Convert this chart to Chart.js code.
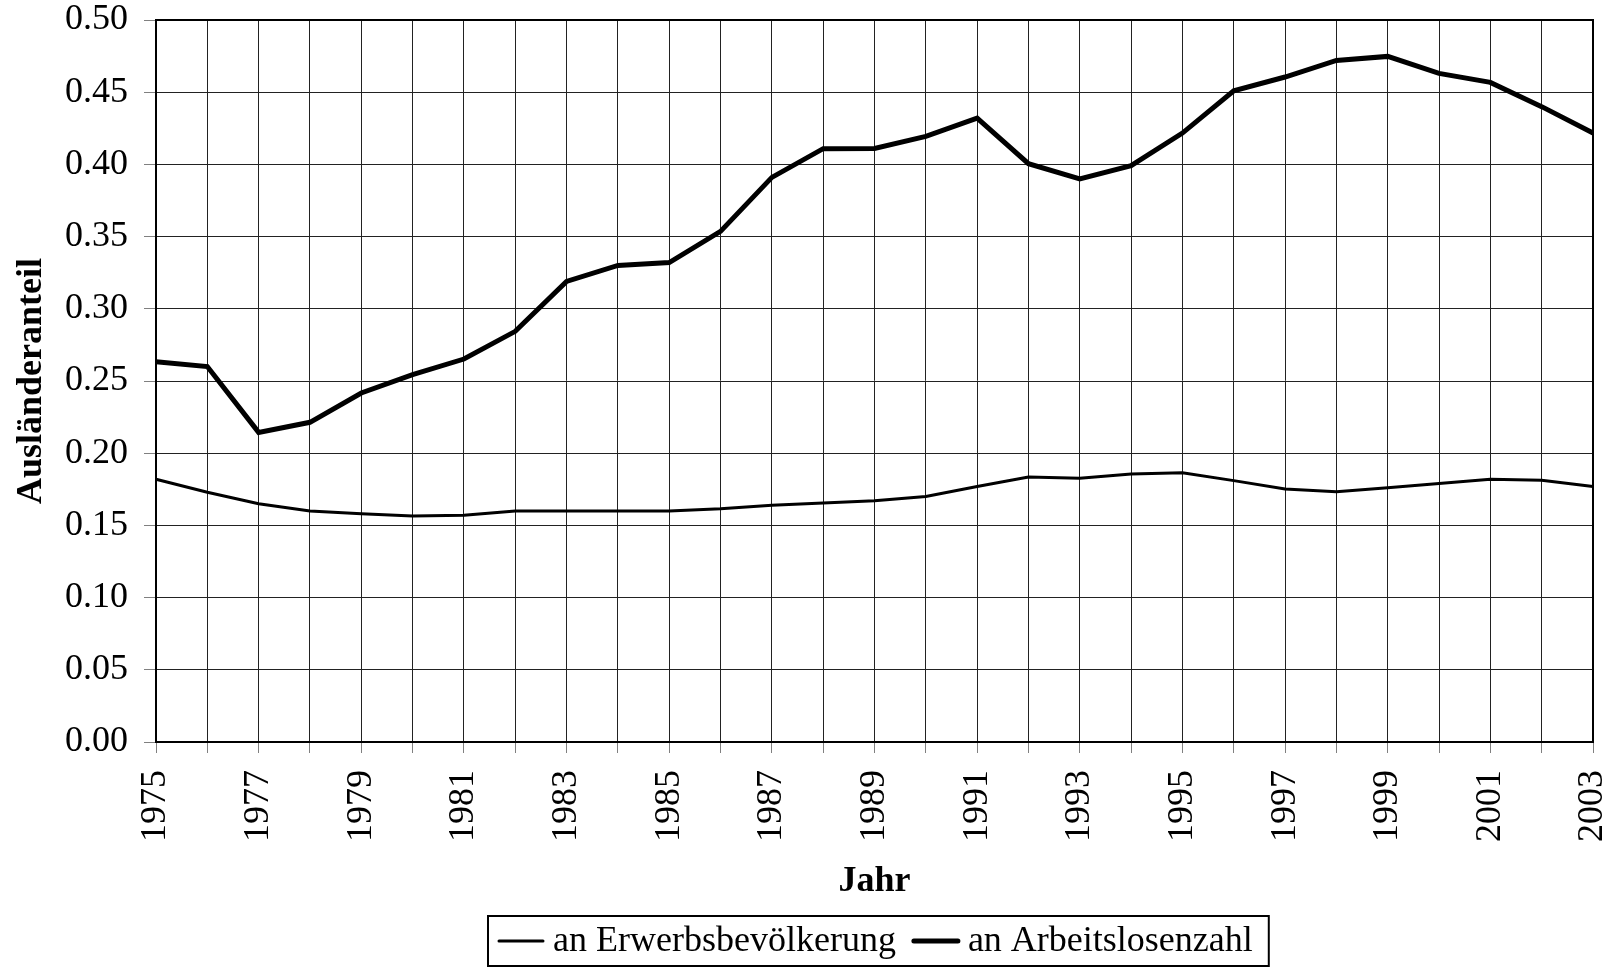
<!DOCTYPE html>
<html>
<head>
<meta charset="utf-8">
<script src="https://cdn.jsdelivr.net/npm/chart.js@4"></script>
<style>
  html, body { margin: 0; padding: 0; background: #fff; }
  #wrap { width: 1613px; height: 967px; position: relative; }
</style>
</head>
<body>
<div id="wrap"><canvas id="chart"></canvas></div>
<script>
const years = ['1975','1976','1977','1978','1979','1980','1981','1982','1983','1984',
  '1985','1986','1987','1988','1989','1990','1991','1992','1993','1994',
  '1995','1996','1997','1998','1999','2000','2001','2002','2003'];

// Anteil an Erwerbsbevölkerung (duenne Linie)
const erwerb = [0.182, 0.173, 0.165, 0.160, 0.158, 0.1565, 0.157, 0.160, 0.160, 0.160,
  0.160, 0.1615, 0.164, 0.1655, 0.167, 0.170, 0.177, 0.1835, 0.1826, 0.1856,
  0.1865, 0.181, 0.1752, 0.1733, 0.176, 0.179, 0.182, 0.1812, 0.177];

// Anteil an Arbeitslosenzahl (dicke Linie)
const arbeitslos = [0.2634, 0.260, 0.2144, 0.2214, 0.2417, 0.2544, 0.2652, 0.2844, 0.319, 0.330,
  0.332, 0.3536, 0.391, 0.4109, 0.411, 0.4194, 0.4321, 0.4005, 0.3899, 0.3991,
  0.4217, 0.451, 0.4605, 0.472, 0.4748, 0.463, 0.4568, 0.440, 0.4217];

const seriesLabels = ['an Erwerbsbevölkerung', 'an Arbeitslosenzahl'];
const yTicks = { min: 0, max: 0.5, step: 0.05 };

const serif = '"Liberation Serif", "Times New Roman", serif';

// Rahmen oben/rechts um die Zeichenflaeche
const plotFrame = {
  id: 'plotFrame',
  beforeDatasetsDraw(chart) {
    const { ctx, chartArea: a } = chart;
    ctx.save();
    ctx.strokeStyle = '#000';
    ctx.lineWidth = 2;
    ctx.strokeRect(a.left, a.top, a.right - a.left, a.bottom - a.top);
    ctx.restore();
  }
};

// Legende mit Kasten unten
const legendBox = {
  id: 'legendBox',
  afterDraw(chart) {
    const { ctx, chartArea: a } = chart;
    const sample = 48, gap = 8, itemGap = 16, padL = 9, padR = 16, boxH = 50;
    ctx.save();
    ctx.font = '36px ' + serif;
    const items = chart.data.datasets.map(ds => ({ ds, w: ctx.measureText(ds.label).width }));
    let total = padL + padR;
    items.forEach((it, i) => { total += sample + gap + it.w + (i ? itemGap : 0); });
    const left = Math.round((a.left + a.right) / 2 - total / 2 + 4);
    const top = chart.height - boxH - 1;
    ctx.strokeStyle = '#000';
    ctx.lineWidth = 2;
    ctx.strokeRect(left, top, total, boxH);
    const cy = top + boxH / 2;
    let x = left + padL;
    items.forEach((it, i) => {
      if (i) x += itemGap;
      ctx.beginPath();
      ctx.lineWidth = it.ds.borderWidth;
      ctx.lineCap = 'round';
      ctx.moveTo(x + 2, cy);
      ctx.lineTo(x + sample - 2, cy);
      ctx.stroke();
      x += sample + gap;
      ctx.fillStyle = '#000';
      ctx.textBaseline = 'middle';
      ctx.textAlign = 'left';
      ctx.fillText(it.ds.label, x, cy + 1);
      x += it.w;
    });
    ctx.restore();
  }
};

new Chart(document.getElementById('chart'), {
  type: 'line',
  data: {
    labels: years,
    datasets: [
      {
        label: seriesLabels[0],
        data: erwerb,
        borderColor: '#000',
        borderWidth: 3,
        pointRadius: 0,
        tension: 0,
        fill: false
      },
      {
        label: seriesLabels[1],
        data: arbeitslos,
        borderColor: '#000',
        borderWidth: 5,
        pointRadius: 0,
        tension: 0,
        fill: false
      }
    ]
  },
  options: {
    responsive: true,
    maintainAspectRatio: false,
    animation: false,
    devicePixelRatio: 1,
    layout: { padding: { left: 0, right: 20, top: 20, bottom: 51 } },
    plugins: {
      legend: { display: false },
      tooltip: { enabled: false }
    },
    scales: {
      x: {
        offset: false,
        afterFit(scale) {
          scale.height = 174;
          scale.paddingLeft = 0;
          scale.paddingRight = 0;
        },
        grid: { color: '#222', lineWidth: 1, tickLength: 11, tickColor: '#808080', drawTicks: true },
        border: { color: '#000', width: 2 },
        ticks: {
          autoSkip: false,
          minRotation: 90,
          maxRotation: 90,
          padding: 17,
          color: '#000',
          font: { family: serif, size: 36 },
          callback(v, i) { return i % 2 === 0 ? years[i] : ''; }
        },
        title: {
          display: true,
          text: 'Jahr',
          color: '#000',
          font: { family: serif, size: 36, weight: 'bold' },
          padding: { top: 0, bottom: 13 }
        }
      },
      y: {
        min: yTicks.min,
        max: yTicks.max,
        afterFit(scale) {
          scale.width = 156;
          scale.paddingTop = 0;
          scale.paddingBottom = 0;
        },
        grid: { color: '#222', lineWidth: 1, tickLength: 12, tickColor: '#808080' },
        border: { color: '#000', width: 2 },
        ticks: {
          stepSize: yTicks.step,
          padding: 16,
          color: '#000',
          font: { family: serif, size: 36 },
          callback(v) { return Number(v).toFixed(2); }
        },
        title: {
          display: true,
          text: 'Ausländeranteil',
          color: '#000',
          font: { family: serif, size: 36, weight: 'bold' },
          padding: { top: 10, bottom: 0 }
        }
      }
    }
  },
  plugins: [plotFrame, legendBox]
});
</script>
</body>
</html>
